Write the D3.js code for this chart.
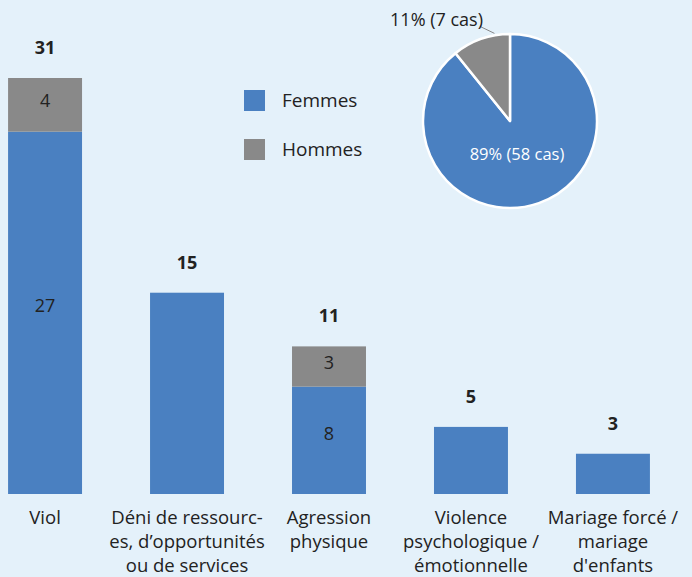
<!DOCTYPE html>
<html>
<head>
<meta charset="utf-8">
<script src="https://cdn.jsdelivr.net/npm/d3@7"></script>
<style>
  body { margin: 0; background: #e4f1fa; }
  svg { display: block; font-family: "Open Sans", sans-serif; }
</style>
</head>
<body>
<div id="chart"></div>
<script>
// data
const categories = [
    ["Viol"],
    ["Déni de ressourc-", "es, d’opportunités", "ou de services"],
    ["Agression", "physique"],
    ["Violence", "psychologique /", "émotionnelle"],
    ["Mariage forcé /", "mariage", "d'enfants"]
];
const femmes = [27, 15, 8, 5, 3];
const hommes = [4, 0, 3, 0, 0];
const pieValues = [58, 7];
const pieLabels = ["89% (58 cas)", "11% (7 cas)"];
const seriesNames = ["Femmes", "Hommes"];
const colors = ["#4a80c1", "#898989"];

const width = 692, height = 577;
const baseY = 494;

const svg = d3.select("#chart").append("svg")
    .attr("width", width)
    .attr("height", height);

svg.append("rect").attr("width", width).attr("height", height).attr("fill", "#e4f1fa");

const x = d3.scaleBand()
    .domain(d3.range(categories.length))
    .range([-26, 684])
    .paddingInner(0.479)
    .paddingOuter(0.24);

const y = d3.scaleLinear().domain([0, 31]).range([baseY, 78]);

let rows = femmes.map((f, i) => ({i: i, f: f, h: hommes[i]}));

// femmes segments
svg.append("g").selectAll("rect")
    .data(rows)
    .join("rect")
    .attr("x", d => x(d.i))
    .attr("width", x.bandwidth())
    .attr("y", d => y(d.f))
    .attr("height", d => baseY - y(d.f))
    .attr("fill", colors[0]);

// hommes segments
svg.append("g").selectAll("rect")
    .data(rows.filter(d => d.h > 0))
    .join("rect")
    .attr("x", d => x(d.i))
    .attr("width", x.bandwidth())
    .attr("y", d => y(d.f + d.h))
    .attr("height", d => y(d.f) - y(d.f + d.h))
    .attr("fill", colors[1]);

// segment labels (only stacked bars)
let segLabels = [];
rows.filter(d => d.h > 0).forEach(d => {
    segLabels.push({i: d.i, v: d.f, cy: (y(d.f) + baseY) / 2 - 7});
    segLabels.push({i: d.i, v: d.h, cy: (y(d.f) + y(d.f + d.h)) / 2 - 4});
});
svg.append("g").selectAll("text")
    .data(segLabels)
    .join("text")
    .attr("x", d => x(d.i) + x.bandwidth() / 2)
    .attr("y", d => d.cy)
    .attr("dy", "0.35em")
    .attr("text-anchor", "middle")
    .attr("font-size", 18)
    .attr("fill", "#222")
    .text(d => d.v);

// totals
svg.append("g").selectAll("text")
    .data(rows)
    .join("text")
    .attr("x", d => x(d.i) + x.bandwidth() / 2)
    .attr("y", d => y(d.f + d.h) - 24)
    .attr("text-anchor", "middle")
    .attr("font-size", 18)
    .attr("font-weight", "bold")
    .attr("fill", "#222")
    .text(d => d.f + d.h);

// category labels
let cat = svg.append("g").selectAll("text")
    .data(categories)
    .join("text")
    .attr("x", (d, i) => x(i) + x.bandwidth() / 2)
    .attr("y", 524)
    .attr("text-anchor", "middle")
    .attr("font-size", 18.5)
    .attr("fill", "#222");
cat.selectAll("tspan")
    .data(d => d)
    .join("tspan")
    .attr("x", function () { return d3.select(this.parentNode).attr("x"); })
    .attr("dy", (d, j) => j === 0 ? 0 : 24)
    .text(d => d);

// legend
let leg = svg.append("g").attr("transform", "translate(244,90)");
seriesNames.forEach((name, i) => {
    leg.append("rect")
        .attr("x", 0).attr("y", i * 49)
        .attr("width", 21).attr("height", 21)
        .attr("fill", colors[i]);
    leg.append("text")
        .attr("x", 38).attr("y", i * 49 + 10.5)
        .attr("dy", "0.35em")
        .attr("font-size", 19)
        .attr("fill", "#222")
        .text(name);
});

// pie
const cx = 510, cy = 121, r = 87;
const pie = d3.pie().sort(null).value(d => d);
const arc = d3.arc().innerRadius(0).outerRadius(r);
let pg = svg.append("g").attr("transform", "translate(" + cx + "," + cy + ")");
let arcs = pie(pieValues);
pg.selectAll("path")
    .data(arcs)
    .join("path")
    .attr("d", arc)
    .attr("fill", (d, i) => colors[i])
    .attr("stroke", "#fff")
    .attr("stroke-width", 2.5)
    .attr("stroke-linejoin", "round");

// inside label
pg.append("text")
    .attr("x", 7)
    .attr("y", 33)
    .attr("dy", "0.35em")
    .attr("text-anchor", "middle")
    .attr("font-size", 16.5)
    .attr("fill", "#fff")
    .text(pieLabels[0]);

// outside label with leader
let s = arcs[1];
let a1 = s.startAngle + 0.74 * (s.endAngle - s.startAngle);
let a2 = s.startAngle + 0.55 * (s.endAngle - s.startAngle);
let p1 = [Math.sin(a1) * (r + 2), -Math.cos(a1) * (r + 2)];
let p2 = [Math.sin(a2) * (r + 12), -Math.cos(a2) * (r + 12)];
pg.append("line")
    .attr("x1", p1[0]).attr("y1", p1[1])
    .attr("x2", p2[0]).attr("y2", p2[1])
    .attr("stroke", "#888").attr("stroke-width", 1);
pg.append("text")
    .attr("x", -27)
    .attr("y", -101)
    .attr("dy", "0.35em")
    .attr("text-anchor", "end")
    .attr("font-size", 18)
    .attr("fill", "#222")
    .text(pieLabels[1]);
</script>
</body>
</html>
